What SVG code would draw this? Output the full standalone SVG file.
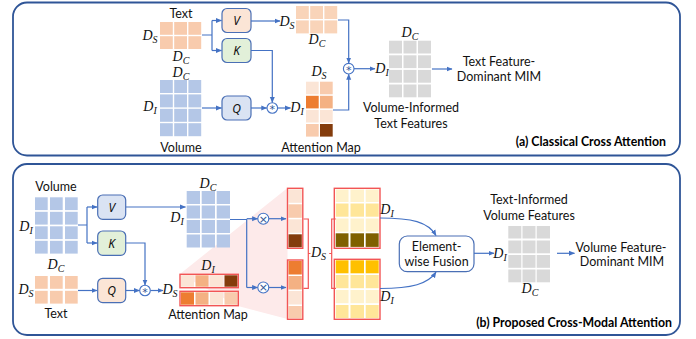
<svg xmlns="http://www.w3.org/2000/svg" width="696" height="339" viewBox="0 0 696 339">
<style>
.panel{fill:#fff;stroke:#2f5597;stroke-width:1.8}
.lbl{font-family:Lato,"Liberation Sans",sans-serif;font-size:12.5px;fill:#111;text-anchor:middle}
.cap{font-family:Lato,"Liberation Sans",sans-serif;font-size:12.3px;font-weight:bold;fill:#000;text-anchor:end}
.m{font-family:"Liberation Serif",serif;font-style:italic;font-size:14px;fill:#111;text-anchor:middle}
.sub{font-size:10px}
.box{stroke:#4a6fb5;stroke-width:1.2}
.bl{font-family:"Noto Sans","Open Sans",sans-serif;font-style:italic;font-size:12px;fill:#111;text-anchor:middle}
.c{fill:none;stroke:#4472c4;stroke-width:1.2}
.op{fill:#fff;stroke:#4472c4;stroke-width:1.1}
.opt{font-family:"DejaVu Sans",sans-serif;font-size:11px;fill:#2f5597;text-anchor:middle}
.or{fill:#f8cbad}.or2{fill:#f9d4b9}.bu{fill:#b4c7e7}.gr{fill:#d9d9d9}
.a1{fill:#fbe5d6}.a2{fill:#f4b183}.a3{fill:#ed7d31}.a4{fill:#843c0c}.a5{fill:#f8cbad}
.y1{fill:#fff2cc}.y2{fill:#ffe699}.y3{fill:#7f6000}.y4{fill:#ffc000}
.red{fill:none;stroke:#f25555;stroke-width:1.4}
</style>
<defs>
<marker id="ah" markerWidth="6" markerHeight="6" refX="5.5" refY="3" orient="auto" markerUnits="userSpaceOnUse">
<path d="M0,0.5 L6,3 L0,5.5 z" fill="#4472c4"/>
</marker>
</defs>

<!-- ============ PANEL A ============ -->
<rect class="panel" x="13" y="2.5" width="667" height="153" rx="14"/>

<g id="a-text">
<text class="lbl" x="181" y="17.5">Text</text>
<rect class="or" x="160" y="22" width="12.8" height="12.8"/><rect class="or" x="174.2" y="22" width="12.8" height="12.8"/><rect class="or" x="188.4" y="22" width="12.8" height="12.8"/>
<rect class="or" x="160" y="36.2" width="12.8" height="12.8"/><rect class="or" x="174.2" y="36.2" width="12.8" height="12.8"/><rect class="or" x="188.4" y="36.2" width="12.8" height="12.8"/>
<text class="m" x="150" y="40">D<tspan class="sub" dy="3">S</tspan></text>
<text class="m" x="181" y="61">D<tspan class="sub" dy="3">C</tspan></text>
</g>

<g id="a-volume">
<text class="m" x="181" y="77">D<tspan class="sub" dy="3">C</tspan></text>
<rect class="bu" x="160" y="80" width="12.8" height="13"/><rect class="bu" x="174.2" y="80" width="12.8" height="13"/><rect class="bu" x="188.4" y="80" width="12.8" height="13"/>
<rect class="bu" x="160" y="94.4" width="12.8" height="13"/><rect class="bu" x="174.2" y="94.4" width="12.8" height="13"/><rect class="bu" x="188.4" y="94.4" width="12.8" height="13"/>
<rect class="bu" x="160" y="108.8" width="12.8" height="13"/><rect class="bu" x="174.2" y="108.8" width="12.8" height="13"/><rect class="bu" x="188.4" y="108.8" width="12.8" height="13"/>
<rect class="bu" x="160" y="123.2" width="12.8" height="13"/><rect class="bu" x="174.2" y="123.2" width="12.8" height="13"/><rect class="bu" x="188.4" y="123.2" width="12.8" height="13"/>
<text class="m" x="150" y="111">D<tspan class="sub" dy="3">I</tspan></text>
<text class="lbl" x="181" y="151.5">Volume</text>
</g>

<g id="a-V"><rect class="box" x="222" y="8.5" width="29" height="24" rx="5" fill="#fbe5d6"/><text class="bl" x="236.5" y="25">V</text></g>
<g id="a-K"><rect class="box" x="222" y="38.5" width="29" height="24" rx="5" fill="#e2f0d9"/><text class="bl" x="236.5" y="55">K</text></g>
<g id="a-Q"><rect class="box" x="222" y="96" width="29" height="24" rx="5" fill="#dae3f3"/><text class="bl" x="236.5" y="112.5">Q</text></g>

<g id="a-vout">
<text class="m" x="287" y="26">D<tspan class="sub" dy="3">S</tspan></text>
<rect class="or2" x="296" y="6" width="12.8" height="13"/><rect class="or2" x="310.2" y="6" width="12.8" height="13"/><rect class="or2" x="324.4" y="6" width="12.8" height="13"/>
<rect class="or2" x="296" y="20.4" width="12.8" height="13"/><rect class="or2" x="310.2" y="20.4" width="12.8" height="13"/><rect class="or2" x="324.4" y="20.4" width="12.8" height="13"/>
<text class="m" x="317" y="44">D<tspan class="sub" dy="3">C</tspan></text>
</g>

<g id="a-attn">
<text class="m" x="319" y="76">D<tspan class="sub" dy="3">S</tspan></text>
<text class="m" x="297" y="112">D<tspan class="sub" dy="3">I</tspan></text>
<rect class="a1" x="306" y="81.7" width="12.7" height="12.6"/><rect class="a5" x="320" y="81.7" width="12.7" height="12.6"/>
<rect class="a3" x="306" y="95.8" width="12.7" height="12.6"/><rect class="a2" x="320" y="95.8" width="12.7" height="12.6"/>
<rect class="a1" x="306" y="109.9" width="12.7" height="12.6"/><rect class="a1" x="320" y="109.9" width="12.7" height="12.6"/>
<rect class="a5" x="306" y="124" width="12.7" height="12.6"/><rect class="a4" x="320" y="124" width="12.7" height="12.6"/>
<text class="lbl" x="321" y="151.5">Attention Map</text>
</g>

<g id="a-out">
<text class="m" x="410" y="37">D<tspan class="sub" dy="3">C</tspan></text>
<text class="m" x="382" y="73">D<tspan class="sub" dy="3">I</tspan></text>
<rect class="gr" x="389" y="40.7" width="13" height="12.8"/><rect class="gr" x="403.5" y="40.7" width="13" height="12.8"/><rect class="gr" x="418" y="40.7" width="13" height="12.8"/>
<rect class="gr" x="389" y="55.3" width="13" height="12.8"/><rect class="gr" x="403.5" y="55.3" width="13" height="12.8"/><rect class="gr" x="418" y="55.3" width="13" height="12.8"/>
<rect class="gr" x="389" y="69.9" width="13" height="12.8"/><rect class="gr" x="403.5" y="69.9" width="13" height="12.8"/><rect class="gr" x="418" y="69.9" width="13" height="12.8"/>
<rect class="gr" x="389" y="84.5" width="13" height="12.8"/><rect class="gr" x="403.5" y="84.5" width="13" height="12.8"/><rect class="gr" x="418" y="84.5" width="13" height="12.8"/>
<text class="lbl" x="411" y="112">Volume-Informed</text>
<text class="lbl" x="411" y="128">Text Features</text>
</g>

<g id="a-mim">
<text class="lbl" x="499" y="66">Text Feature-</text>
<text class="lbl" x="499" y="81">Dominant MIM</text>
</g>

<g id="a-ops">
<circle class="op" cx="348.7" cy="68.7" r="5.3"/><text class="opt" x="348.7" y="74">*</text>
<circle class="op" cx="272.3" cy="108" r="5.3"/><text class="opt" x="272.3" y="113.3">*</text>
</g>

<g id="a-connectors">
<path class="c" d="M202,35 H212 M212,20.5 V50.5"/>
<path class="c" d="M212,20.5 H221.5" marker-end="url(#ah)"/>
<path class="c" d="M212,50.5 H221.5" marker-end="url(#ah)"/>
<path class="c" d="M202,108 H221.5" marker-end="url(#ah)"/>
<path class="c" d="M251,21 H280" marker-end="url(#ah)"/>
<path class="c" d="M338,20 H348.7 V63" marker-end="url(#ah)"/>
<path class="c" d="M251,50.5 H272.3 V102.4" marker-end="url(#ah)"/>
<path class="c" d="M251,108 H266.8" marker-end="url(#ah)"/>
<path class="c" d="M277.6,108 H290.5" marker-end="url(#ah)"/>
<path class="c" d="M333,110 H348.7 V74.2" marker-end="url(#ah)"/>
<path class="c" d="M354,68.7 H375" marker-end="url(#ah)"/>
<path class="c" d="M432,69 H452" marker-end="url(#ah)"/>
</g>

<text class="cap" x="666" y="146">(a) Classical Cross Attention</text>

<!-- ============ PANEL B ============ -->
<rect class="panel" x="13" y="164" width="667" height="171" rx="14"/>

<polygon points="180,274 287.5,188 287.5,319 238,306" fill="#fdeaea"/>

<g id="b-volume">
<text class="lbl" x="56" y="191">Volume</text>
<rect class="bu" x="35" y="197.3" width="12.7" height="12.8"/><rect class="bu" x="50" y="197.3" width="12.7" height="12.8"/><rect class="bu" x="65" y="197.3" width="12.7" height="12.8"/>
<rect class="bu" x="35" y="211.8" width="12.7" height="12.8"/><rect class="bu" x="50" y="211.8" width="12.7" height="12.8"/><rect class="bu" x="65" y="211.8" width="12.7" height="12.8"/>
<rect class="bu" x="35" y="226.3" width="12.7" height="12.8"/><rect class="bu" x="50" y="226.3" width="12.7" height="12.8"/><rect class="bu" x="65" y="226.3" width="12.7" height="12.8"/>
<rect class="bu" x="35" y="240.8" width="12.7" height="12.8"/><rect class="bu" x="50" y="240.8" width="12.7" height="12.8"/><rect class="bu" x="65" y="240.8" width="12.7" height="12.8"/>
<text class="m" x="26" y="231">D<tspan class="sub" dy="3">I</tspan></text>
</g>

<g id="b-text">
<text class="m" x="56" y="269">D<tspan class="sub" dy="3">C</tspan></text>
<rect class="or" x="35" y="276" width="12.7" height="12.8"/><rect class="or" x="50" y="276" width="12.7" height="12.8"/><rect class="or" x="65" y="276" width="12.7" height="12.8"/>
<rect class="or" x="35" y="290.8" width="12.7" height="12.8"/><rect class="or" x="50" y="290.8" width="12.7" height="12.8"/><rect class="or" x="65" y="290.8" width="12.7" height="12.8"/>
<text class="m" x="26" y="294">D<tspan class="sub" dy="3">S</tspan></text>
<text class="lbl" x="56" y="318">Text</text>
</g>

<g id="b-V"><rect class="box" x="97.7" y="195" width="28" height="24.3" rx="5" fill="#dae3f3"/><text class="bl" x="111.7" y="211.5">V</text></g>
<g id="b-K"><rect class="box" x="97.7" y="231" width="28" height="24.3" rx="5" fill="#e2f0d9"/><text class="bl" x="111.7" y="247.5">K</text></g>
<g id="b-Q"><rect class="box" x="97.7" y="278.3" width="28" height="24.3" rx="5" fill="#fbe5d6"/><text class="bl" x="111.7" y="295">Q</text></g>

<g id="b-vout">
<text class="m" x="208" y="188">D<tspan class="sub" dy="3">C</tspan></text>
<text class="m" x="177" y="222">D<tspan class="sub" dy="3">I</tspan></text>
<rect class="bu" x="186.7" y="191" width="13.3" height="13"/><rect class="bu" x="201.7" y="191" width="13.3" height="13"/><rect class="bu" x="216.7" y="191" width="13.3" height="13"/>
<rect class="bu" x="186.7" y="205.5" width="13.3" height="13"/><rect class="bu" x="201.7" y="205.5" width="13.3" height="13"/><rect class="bu" x="216.7" y="205.5" width="13.3" height="13"/>
<rect class="bu" x="186.7" y="220" width="13.3" height="13"/><rect class="bu" x="201.7" y="220" width="13.3" height="13"/><rect class="bu" x="216.7" y="220" width="13.3" height="13"/>
<rect class="bu" x="186.7" y="234.5" width="13.3" height="13"/><rect class="bu" x="201.7" y="234.5" width="13.3" height="13"/><rect class="bu" x="216.7" y="234.5" width="13.3" height="13"/>
</g>

<g id="b-attn">
<text class="m" x="208" y="270">D<tspan class="sub" dy="3">I</tspan></text>
<text class="m" x="170" y="294">D<tspan class="sub" dy="3">S</tspan></text>
<rect class="a1" x="181" y="275.3" width="13" height="11.4"/><rect class="a2" x="195.5" y="275.3" width="13" height="11.4"/><rect class="a1" x="210" y="275.3" width="13" height="11.4"/><rect class="a4" x="224.5" y="275.3" width="13" height="11.4"/>
<rect class="red" x="180" y="274.3" width="58.3" height="13.4"/>
<rect class="a3" x="181" y="292.3" width="13" height="12.4"/><rect class="a2" x="195.5" y="292.3" width="13" height="12.4"/><rect class="a1" x="210" y="292.3" width="13" height="12.4"/><rect class="a5" x="224.5" y="292.3" width="13" height="12.4"/>
<rect class="red" x="180" y="291.3" width="58.3" height="14.4"/>
<text class="lbl" x="208" y="319">Attention Map</text>
</g>

<g id="b-col1">
<rect class="a1" x="288.5" y="189.3" width="13.3" height="13.5"/>
<rect class="a5" x="288.5" y="204.3" width="13.3" height="13.5"/>
<rect class="a1" x="288.5" y="219.3" width="13.3" height="13.5"/>
<rect class="a4" x="288.5" y="234.3" width="13.3" height="13"/>
<rect class="red" x="287.5" y="188.3" width="15.3" height="60"/>
</g>
<g id="b-col2">
<rect class="a3" x="288.5" y="261" width="13.3" height="13.5"/>
<rect class="a2" x="288.5" y="276" width="13.3" height="13.5"/>
<rect class="a1" x="288.5" y="291" width="13.3" height="13.5"/>
<rect class="a5" x="288.5" y="306" width="13.3" height="12.3"/>
<rect class="red" x="287.5" y="260" width="15.3" height="59.3"/>
</g>

<g id="b-brackets">
<path d="M303.5,219 H308.3 V288.3 H303.5 M308.3,253.5 H310.5" fill="none" stroke="#f25555" stroke-width="1.2"/>
<path d="M336,219 H331.7 V288.3 H336 M331.7,253.5 H329.2" fill="none" stroke="#f25555" stroke-width="1.2"/>
<text class="m" x="318.5" y="257">D<tspan class="sub" dy="3">S</tspan></text>
</g>

<g id="b-grid1">
<rect class="y1" x="335.7" y="189.5" width="12.8" height="12.5"/><rect class="y1" x="350.5" y="189.5" width="13.5" height="12.5"/><rect class="y1" x="365.7" y="189.5" width="13" height="12.5"/>
<rect class="y2" x="335.7" y="203.5" width="12.8" height="13.2"/><rect class="y2" x="350.5" y="203.5" width="13.5" height="13.2"/><rect class="y2" x="365.7" y="203.5" width="13" height="13.2"/>
<rect class="y1" x="335.7" y="218.5" width="12.8" height="13.2"/><rect class="y1" x="350.5" y="218.5" width="13.5" height="13.2"/><rect class="y1" x="365.7" y="218.5" width="13" height="13.2"/>
<rect class="y3" x="335.7" y="233.3" width="12.8" height="13.6"/><rect class="y3" x="350.5" y="233.3" width="13.5" height="13.6"/><rect class="y3" x="365.7" y="233.3" width="13" height="13.6"/>
<rect class="red" x="334.3" y="188.3" width="45.7" height="60"/>
<text class="m" x="387" y="214">D<tspan class="sub" dy="3">I</tspan></text>
</g>
<g id="b-grid2">
<rect class="y4" x="335.7" y="260.3" width="12.8" height="13"/><rect class="y4" x="350.5" y="260.3" width="13.5" height="13"/><rect class="y4" x="365.7" y="260.3" width="13" height="13"/>
<rect class="y2" x="335.7" y="275" width="12.8" height="13.2"/><rect class="y2" x="350.5" y="275" width="13.5" height="13.2"/><rect class="y2" x="365.7" y="275" width="13" height="13.2"/>
<rect class="y1" x="335.7" y="290" width="12.8" height="13.2"/><rect class="y1" x="350.5" y="290" width="13.5" height="13.2"/><rect class="y1" x="365.7" y="290" width="13" height="13.2"/>
<rect class="y2" x="335.7" y="305" width="12.8" height="13.1"/><rect class="y2" x="350.5" y="305" width="13.5" height="13.1"/><rect class="y2" x="365.7" y="305" width="13" height="13.1"/>
<rect class="red" x="334.3" y="259.3" width="45.7" height="60"/>
<text class="m" x="387" y="301">D<tspan class="sub" dy="3">I</tspan></text>
</g>

<g id="b-fusion">
<rect x="399.3" y="236" width="74.7" height="35.7" rx="8" fill="#fff" stroke="#4a6fb5" stroke-width="1.2"/>
<text class="lbl" x="436.6" y="251">Element-</text>
<text class="lbl" x="436.6" y="265.5">wise Fusion</text>
</g>

<g id="b-out">
<text class="lbl" x="529" y="204">Text-Informed</text>
<text class="lbl" x="529" y="220">Volume Features</text>
<text class="m" x="500" y="258">D<tspan class="sub" dy="3">I</tspan></text>
<rect class="gr" x="508.3" y="226" width="13" height="12.5"/><rect class="gr" x="522.5" y="226" width="13" height="12.5"/><rect class="gr" x="536.7" y="226" width="13.3" height="12.5"/>
<rect class="gr" x="508.3" y="240.5" width="13" height="12.8"/><rect class="gr" x="522.5" y="240.5" width="13" height="12.8"/><rect class="gr" x="536.7" y="240.5" width="13.3" height="12.8"/>
<rect class="gr" x="508.3" y="255" width="13" height="12.8"/><rect class="gr" x="522.5" y="255" width="13" height="12.8"/><rect class="gr" x="536.7" y="255" width="13.3" height="12.8"/>
<rect class="gr" x="508.3" y="269.5" width="13" height="12.8"/><rect class="gr" x="522.5" y="269.5" width="13" height="12.8"/><rect class="gr" x="536.7" y="269.5" width="13.3" height="12.8"/>
<text class="m" x="530" y="293">D<tspan class="sub" dy="3">C</tspan></text>
</g>

<g id="b-mim">
<text class="lbl" x="621" y="251.5">Volume Feature-</text>
<text class="lbl" x="622" y="266">Dominant MIM</text>
</g>

<g id="b-ops">
<circle class="op" cx="145" cy="290.5" r="5.3"/><text class="opt" x="145" y="295.8">*</text>
<circle class="op" cx="263.3" cy="218.7" r="5.5"/><text class="opt" x="263.3" y="222.5">×</text>
<circle class="op" cx="263.3" cy="287.5" r="5.5"/><text class="opt" x="263.3" y="291.3">×</text>
</g>

<g id="b-connectors">
<path class="c" d="M78,225 H87 M87,207 V243"/>
<path class="c" d="M87,207 H97" marker-end="url(#ah)"/>
<path class="c" d="M87,243 H97" marker-end="url(#ah)"/>
<path class="c" d="M78,290.5 H97" marker-end="url(#ah)"/>
<path class="c" d="M126,207 H185.5" marker-end="url(#ah)"/>
<path class="c" d="M126,243 H145 V285" marker-end="url(#ah)"/>
<path class="c" d="M126,290.5 H139.5" marker-end="url(#ah)"/>
<path class="c" d="M150.5,290.5 H163" marker-end="url(#ah)"/>
<path class="c" d="M230,219.5 H246.7 M246.7,219 V287.5"/>
<path class="c" d="M246.7,218.7 H257.6" marker-end="url(#ah)"/>
<path class="c" d="M246.7,287.5 H257.6" marker-end="url(#ah)"/>
<path class="c" d="M268.8,218.7 H286" marker-end="url(#ah)"/>
<path class="c" d="M268.8,287.5 H286" marker-end="url(#ah)"/>
<path class="c" d="M380,218 C412,218 428,222 436,235.5" marker-end="url(#ah)"/>
<path class="c" d="M380,288.5 C412,288.5 428,284 436,272.2" marker-end="url(#ah)"/>
<path class="c" d="M474,253.3 H494" marker-end="url(#ah)"/>
<path class="c" d="M557,253.3 H574.5" marker-end="url(#ah)"/>
</g>

<text class="cap" x="672" y="326.5">(b) Proposed Cross-Modal Attention</text>
</svg>
